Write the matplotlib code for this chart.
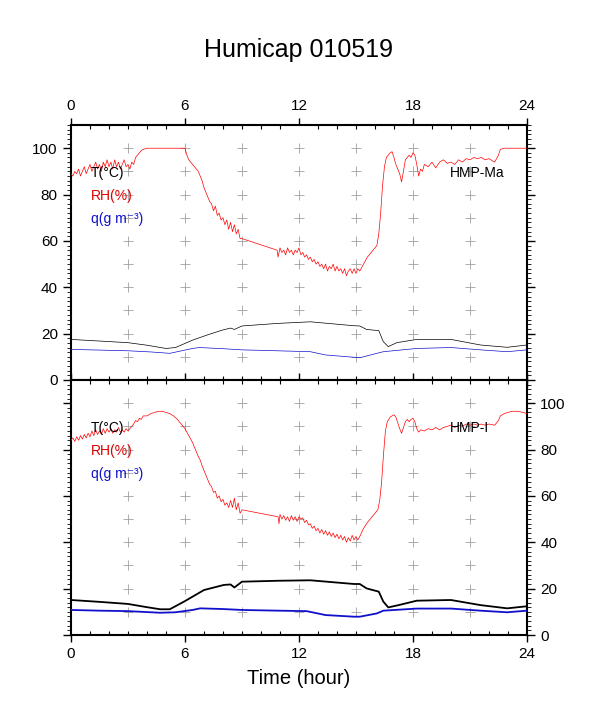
import matplotlib
matplotlib.use("Agg")
import matplotlib.pyplot as plt
from matplotlib.ticker import MultipleLocator

plt.rcParams['font.family'] = ['Liberation Sans', 'DejaVu Sans']

# ---------------------------
# Data
# ---------------------------
# HMP-Ma (upper panel)
ma_rh_hour = [0.0, 0.1, 0.2, 0.3, 0.4, 0.5, 0.6, 0.7, 0.8, 0.9, 1.0, 1.1, 1.2, 1.3, 1.4, 1.5,
              1.6, 1.7, 1.8, 1.9, 2.0, 2.1, 2.2, 2.3, 2.4, 2.5, 2.6, 2.7, 2.8, 2.9, 3.0, 3.1,
              3.2, 3.3, 3.4, 3.5, 3.6, 3.7, 3.8, 4.0, 6.0, 6.1, 6.2, 6.3, 6.4, 6.5, 6.6, 6.7,
              6.8, 6.9, 7.0, 7.1, 7.2, 7.3, 7.4, 7.5, 7.6, 7.7, 7.8, 7.9, 8.0, 8.1, 8.2, 8.3,
              8.4, 8.5, 8.6, 8.7, 8.8, 8.9, 9.0, 10.85, 10.9, 11.0, 11.1, 11.2, 11.3, 11.4,
              11.5, 11.6, 11.7, 11.8, 11.9, 12.0, 12.1, 12.2, 12.3, 12.4, 12.5, 12.6, 12.7,
              12.8, 12.9, 13.0, 13.1, 13.2, 13.3, 13.4, 13.5, 13.6, 13.7, 13.8, 13.9, 14.0,
              14.1, 14.2, 14.3, 14.4, 14.5, 14.6, 14.7, 14.8, 14.9, 15.0, 15.1, 15.2, 15.4,
              15.6, 15.8, 16.0, 16.1, 16.2, 16.3, 16.4, 16.5, 16.6, 16.8, 16.9, 17.0, 17.1,
              17.2, 17.3, 17.4, 17.5, 17.6, 17.8, 17.9, 18.0, 18.1, 18.2, 18.3, 18.4, 18.5,
              18.6, 18.8, 19.0, 19.2, 19.4, 19.6, 19.8, 20.0, 20.2, 20.4, 20.6, 20.8, 21.0,
              21.2, 21.4, 21.6, 21.8, 22.0, 22.3, 22.5, 22.6, 22.8, 24.0]
ma_rh = [89, 88, 90, 89, 91, 88, 90, 92, 89, 91, 93, 90, 92, 94, 91, 93,
         90, 94, 92, 95, 92, 94, 91, 95, 92, 94, 91, 93, 95, 92, 93, 91,
         94, 93, 96, 97, 98, 99, 99.5, 100, 100, 97, 95, 94, 93, 92, 91, 90,
         88, 86, 83, 81, 79, 77, 76, 73, 75, 71, 72, 69, 70, 67, 69, 65,
         68, 64, 67, 63, 65, 61, 61, 56, 53, 57, 55, 56, 54, 57,
         55, 56, 54, 56, 55, 57, 54, 55, 53, 54, 52, 53, 51,
         52, 50, 51, 49, 50, 48, 50, 47, 49, 48, 50, 47, 49,
         47, 48, 46, 48, 45, 47, 48, 46, 48, 46, 48, 47, 50,
         53, 55, 57, 58, 63, 72, 84, 92, 96, 98, 98.5, 96, 93,
         91, 89, 85.5, 90, 95, 97, 96, 98, 97, 93, 88, 91, 90,
         93, 92, 94, 91.5, 94, 95, 93.5, 94, 93, 95, 94, 95.5, 95,
         96, 95.5, 96, 95, 95.5, 94, 97, 99.5, 100, 100]

ma_t_hour = [0.0, 1.5, 3.0, 4.0, 5.0, 5.5, 6.4, 7.2, 8.0, 8.4, 8.6, 9.0, 10.85, 12.6,
             14.9, 15.2, 15.56, 16.2, 16.44, 16.7, 17.15, 18.2, 20.0, 21.55, 22.96, 24.0]
ma_t = [17.5, 16.8, 16.1, 15.0, 13.6, 14.0, 17.2, 19.5, 21.6, 22.4, 21.8, 23.3, 24.4, 25.1,
        23.4, 23.3, 21.8, 21.3, 16.5, 14.4, 16.1, 17.5, 17.5, 15.1, 14.1, 15.1]

ma_q_hour = [0.0, 1.5, 3.0, 4.2, 5.2, 6.4, 6.75, 8.0, 9.0, 10.85, 12.6, 13.4, 14.9, 15.2,
             16.1, 16.44, 18.2, 20.0, 21.55, 22.96, 24.0]
ma_q = [13.2, 12.9, 12.6, 12.1, 11.5, 13.6, 14.0, 13.5, 13.0, 12.6, 12.2, 10.8, 9.8, 9.6,
        11.5, 12.2, 13.6, 14.0, 13.0, 12.2, 13.0]

# HMP-I (lower panel)
i_rh_hour = [0.0, 0.1, 0.2, 0.3, 0.4, 0.5, 0.6, 0.7, 0.8, 0.9, 1.0, 1.1, 1.2, 1.3, 1.4, 1.5,
             1.6, 1.7, 1.8, 1.9, 2.0, 2.1, 2.2, 2.3, 2.4, 2.5, 2.6, 2.7, 2.8, 2.9, 3.0, 3.1,
             3.2, 3.3, 3.4, 3.5, 3.6, 3.7, 3.8, 4.0, 4.2, 4.4, 4.6, 4.8, 5.0, 5.2, 5.4, 5.6,
             5.8, 6.0, 6.2, 6.4, 6.6, 6.7, 6.8, 6.9, 7.0, 7.1, 7.2, 7.3, 7.4, 7.5, 7.6, 7.7,
             7.8, 7.9, 8.0, 8.1, 8.2, 8.3, 8.4, 8.5, 8.6, 8.7, 8.8, 8.9, 9.0, 10.9, 10.95,
             11.0, 11.1, 11.2, 11.3, 11.4, 11.5, 11.6, 11.7, 11.8, 11.9, 12.0, 12.1, 12.2,
             12.3, 12.4, 12.5, 12.6, 12.7, 12.8, 12.9, 13.0, 13.1, 13.2, 13.3, 13.4, 13.5,
             13.6, 13.7, 13.8, 13.9, 14.0, 14.1, 14.2, 14.3, 14.4, 14.5, 14.6, 14.7, 14.8,
             14.9, 15.0, 15.1, 15.2, 15.4, 15.6, 15.8, 16.0, 16.15, 16.25, 16.35, 16.45,
             16.55, 16.65, 16.8, 17.0, 17.1, 17.2, 17.3, 17.4, 17.5, 17.6, 17.7, 17.8, 17.9,
             18.0, 18.1, 18.2, 18.3, 18.4, 18.6, 18.8, 19.0, 19.2, 19.4, 19.6, 19.8, 20.0,
             20.2, 20.4, 20.6, 20.8, 21.0, 21.2, 21.4, 21.6, 21.8, 22.0, 22.3, 22.5, 22.6,
             22.8, 23.0, 23.2, 23.5, 23.8, 24.0]
i_rh = [84, 85, 83.5, 85.5, 84, 86, 84.5, 86.5, 85, 87, 85.5, 88, 86, 88.5, 86.5, 88,
        86.5, 89, 87, 89, 87.5, 89, 87, 88.5, 87.5, 89.5, 87.5, 88.5, 87.5, 89, 88, 89,
        90, 91, 92.5, 92, 93.5, 93, 94.5, 94.5, 95.5, 96, 96.5, 96.5, 96, 95.5, 94.5, 93,
        91, 89, 86, 83, 79, 77, 75.5, 73, 71, 69, 67, 65, 64, 61.5, 62, 59,
        60, 57.5, 58.5, 56, 57, 55, 58, 55, 59, 54, 57, 52.5, 54, 51, 48,
        52, 50, 51.5, 49.5, 51, 49, 51.5, 49.5, 51, 49, 51, 50, 50.5,
        48.5, 49.5, 47.5, 48, 46, 47, 45, 46, 44, 45.5, 43.5, 45, 43,
        44.5, 42.5, 44, 42, 43.5, 41.5, 43, 41, 42.5, 40, 42, 40.5, 43,
        41, 42.5, 41, 42.5, 46, 48.5, 50.5, 52.5, 54, 58, 66, 78,
        88, 92, 94, 95, 94, 91.5, 89, 87, 89.5, 92, 93, 92, 93,
        93.5, 92, 89, 87.5, 88.5, 88, 89, 88.5, 89.5, 88.5, 89.5, 90, 90.5,
        89.5, 90.5, 90, 91, 90.5, 91, 90.5, 91, 90.5, 91, 90.5, 92.5, 94.5,
        95.5, 96, 96.5, 96.5, 96, 95.5]

i_t_hour = [0.0, 1.5, 3.0, 4.0, 4.7, 5.2, 5.95, 7.0, 8.05, 8.4, 8.6, 9.0, 10.9, 12.6,
            14.9, 15.2, 15.56, 16.2, 16.44, 16.7, 17.3, 18.2, 20.0, 21.55, 22.96, 24.0]
i_t = [15.1, 14.3, 13.4, 12.0, 11.1, 11.1, 14.4, 19.4, 21.6, 21.8, 20.5, 23.0, 23.4, 23.6,
       22.0, 22.0, 20.1, 18.7, 14.4, 11.9, 13.0, 14.8, 15.1, 12.9, 11.5, 12.4]

i_q_hour = [0.0, 1.5, 3.0, 4.7, 5.5, 6.4, 6.8, 8.0, 9.0, 10.9, 12.4, 13.4, 14.9, 15.2,
            16.1, 16.44, 18.2, 20.0, 21.55, 22.96, 24.0]
i_q = [10.8, 10.5, 10.3, 9.6, 9.8, 10.8, 11.5, 11.2, 10.8, 10.5, 10.3, 8.6, 7.9, 7.9,
       9.3, 10.5, 11.4, 11.4, 10.5, 9.8, 10.5]

# grid "+" marks
mark_hours = [3, 6, 9, 12, 15, 18, 21]
mark_levels = [10, 20, 30, 40, 50, 60, 70, 80, 90, 100]

fig = plt.figure(figsize=(5.98, 7.08), dpi=100)
ax1 = fig.add_axes([0.1187, 0.4633, 0.7625, 0.3601])
ax2 = fig.add_axes([0.1187, 0.1031, 0.7625, 0.3602])

panels = [
    (ax1, ma_rh_hour, ma_rh, ma_t_hour, ma_t, ma_q_hour, ma_q, "HMP-Ma", 0.5),
    (ax2, i_rh_hour, i_rh, i_t_hour, i_t, i_q_hour, i_q, "HMP-I", 1.3),
]

for ax, rh_h, rh, t_h, t, q_h, q, name, lw in panels:
    for h in mark_hours:
        ax.plot([h] * len(mark_levels), mark_levels, ls='none', marker='+',
                ms=7, mew=0.6, color='#a0a0a0', zorder=1)
    ax.plot(t_h, t, color='black', lw=lw, zorder=3)
    ax.plot(q_h, q, color='#1010cc', lw=lw, zorder=3)
    ax.plot(rh_h, rh, color='#ff0000', lw=0.5, zorder=4)

    ax.set_xlim(0, 24)
    ax.set_ylim(0, 110)
    ax.xaxis.set_major_locator(MultipleLocator(6))
    ax.xaxis.set_minor_locator(MultipleLocator(1))
    ax.yaxis.set_major_locator(MultipleLocator(20))
    ax.yaxis.set_minor_locator(MultipleLocator(2))
    ax.tick_params(axis='x', which='major', direction='out', length=5, width=1,
                   top=True, bottom=True, labelsize=11)
    ax.tick_params(axis='x', which='minor', direction='in', length=3, width=0.8,
                   top=True, bottom=True)
    ax.tick_params(axis='y', which='major', direction='out', length=6, width=1,
                   left=True, right=True, labelsize=11)
    ax.tick_params(axis='y', which='minor', direction='out', length=3, width=0.6,
                   left=True, right=True)
    for s in ax.spines.values():
        s.set_linewidth(1.5)

    ax.text(1.05, 89.5, "T(°C)", color='black', fontsize=10, va='center', zorder=5)
    ax.text(1.05, 79.5, "RH(%)", color='#dd0000', fontsize=10, va='center', zorder=5)
    ax.text(1.05, 69.5, "q(g m⁻³)", color='#1010cc', fontsize=10, va='center', zorder=5)
    ax.text(19.95, 89.5, name, color='black', fontsize=10, va='center', zorder=5)

ax1.tick_params(axis='x', labeltop=True, labelbottom=False)
ax1.tick_params(axis='y', labelleft=True, labelright=False)
ax2.tick_params(axis='x', labeltop=False, labelbottom=True)
ax2.tick_params(axis='y', labelleft=False, labelright=True)

ax2.set_xlabel("Time (hour)", fontsize=14.5, labelpad=6)
fig.text(0.5, 0.929, "Humicap 010519", ha='center', va='center', fontsize=18)

fig.savefig("out.png", dpi=100)
